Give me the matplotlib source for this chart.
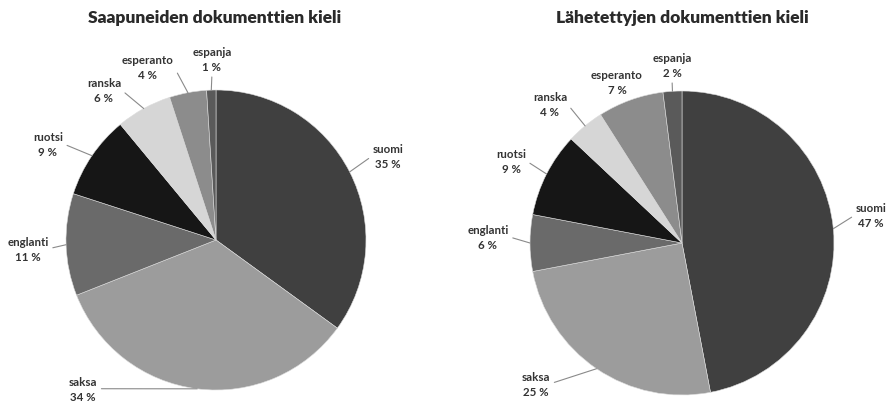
import numpy as np
import matplotlib.pyplot as plt

kielet = ['suomi', 'saksa', 'englanti', 'ruotsi', 'ranska', 'esperanto', 'espanja']
saapuneet = [35, 34, 11, 9, 6, 4, 1]
lahetetyt = [47, 25, 6, 9, 4, 7, 2]
otsikot = ['Saapuneiden dokumenttien kieli', 'Lähetettyjen dokumenttien kieli']
varit = ['#404040', '#9c9c9c', '#6a6a6a', '#161616', '#d6d6d6', '#8c8c8c', '#5a5a5a']

W, H = 889, 403
plt.rcParams['font.family'] = ['Lato', 'DejaVu Sans']

fig = plt.figure(figsize=(W / 100, H / 100), dpi=100)
ax = fig.add_axes([0, 0, 1, 1])

# piirakoiden keskipisteet ja säteet pikseleinä (y ylhäältä)
keskipisteet = [(216, 240), (682, 243)]
sateet = [150, 152]
otsikko_x = [215, 682]
# tekstien keskipisteet (y ylhäältä)
sijainnit = [
    [(388, 157), (83, 390), (28, 250), (48, 145), (104, 91), (148, 68), (212, 60)],
    [(871, 216), (536, 385), (488, 238), (511, 162), (550, 105), (617, 83), (672, 66)],
]

for i, arvot in enumerate([saapuneet, lahetetyt]):
    cx, cy = keskipisteet[i]
    r = sateet[i]
    ax.pie(arvot, colors=varit, startangle=90, counterclock=False,
           center=(cx, H - cy), radius=r,
           wedgeprops=dict(edgecolor='#dcdcdc', linewidth=0.4))
    ax.text(otsikko_x[i], H - 18, otsikot[i], ha='center', va='center',
            fontsize=12.5, fontweight='heavy', color='#2a2a2a')

    kum = np.cumsum([0] + arvot[:-1])
    summa = sum(arvot)
    for j, (kieli, v) in enumerate(zip(kielet, arvot)):
        kulma = np.deg2rad(90 - 360 * (kum[j] + v / 2) / summa)
        ex = cx + r * np.cos(kulma)
        ey = (H - cy) + r * np.sin(kulma)
        lx, ly = sijainnit[i][j]
        ly = H - ly
        dx, dy = ex - lx, ey - ly
        if abs(dx) > abs(dy):
            relpos = (1 if dx > 0 else 0, 0.55)
        else:
            relpos = (0.5, 0 if dy < 0 else 1)
        nuoli = None
        if np.hypot(dx, dy) > 23:
            nuoli = dict(arrowstyle='-', color='#8a8a8a', lw=0.8,
                         shrinkA=1, shrinkB=0, relpos=relpos)
        ax.annotate(f'{kieli}\n{v} %', xy=(ex, ey), xytext=(lx, ly),
                    ha='center', va='center', fontsize=8.3, fontweight='bold',
                    color='#333333', linespacing=1.4, arrowprops=nuoli)

ax.set_xlim(0, W)
ax.set_ylim(0, H)
ax.set_aspect('auto')
ax.axis('off')

fig.savefig('out.png', dpi=100, facecolor='white')
